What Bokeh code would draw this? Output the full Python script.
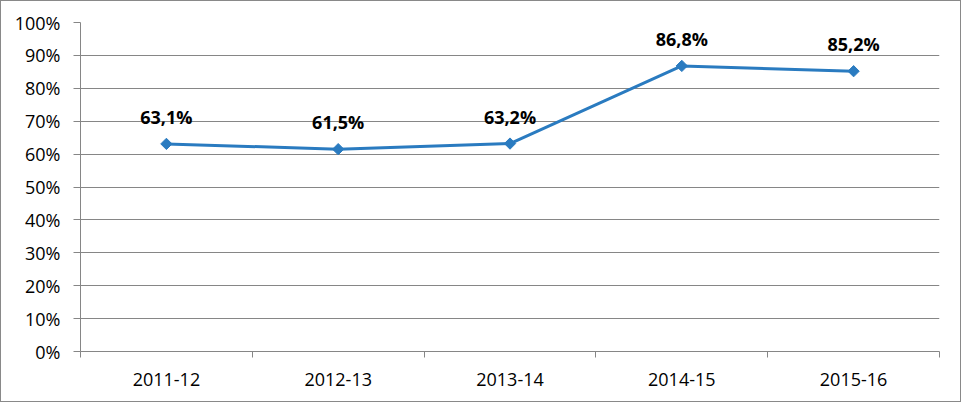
import math
from bokeh.plotting import figure
from bokeh.models import Range1d, FixedTicker, ColumnDataSource
from bokeh.core.properties import value
from bokeh.embed import file_html
from bokeh.resources import INLINE

categories = ["2011-12", "2012-13", "2013-14", "2014-15", "2015-16"]
values = [0.631, 0.615, 0.632, 0.868, 0.852]
labels = ["63,1%", "61,5%", "63,2%", "86,8%", "85,2%"]
y_ticks = [0.0, 0.1, 0.2, 0.3, 0.4, 0.5, 0.6, 0.7, 0.8, 0.9, 1.0]
y_tick_labels = ["0%", "10%", "20%", "30%", "40%", "50%", "60%", "70%", "80%", "90%", "100%"]

xs = [i + 0.5 for i in range(len(categories))]
src = ColumnDataSource(dict(x=xs, y=values, label=labels))

GRAY = "#868686"
BLUE = "#2a7bc0"
FONT = "Open Sans"

p = figure(width=961, height=402, output_backend="svg", toolbar_location=None,
           x_range=Range1d(0, len(categories)), y_range=Range1d(0, 1),
           min_border_left=79, min_border_right=23, min_border_top=21, min_border_bottom=52)
p.styles = {"border": "1px solid #898989"}
p.outline_line_color = None
p.background_fill_color = "white"
p.border_fill_color = "white"

# grid
p.xgrid.grid_line_color = None
p.ygrid.grid_line_color = GRAY
p.ygrid.grid_line_width = 1
p.ygrid.ticker = FixedTicker(ticks=y_ticks)

# y axis
p.yaxis.ticker = FixedTicker(ticks=y_ticks)
p.yaxis.major_label_overrides = {t: l for t, l in zip(y_ticks, y_tick_labels)}
p.yaxis.axis_line_color = GRAY
p.yaxis.major_tick_line_color = GRAY
p.yaxis.major_tick_out = 7
p.yaxis.major_tick_in = 0
p.yaxis.minor_tick_line_color = None
p.yaxis.major_label_standoff = 13
p.yaxis.major_label_text_font = FONT
p.yaxis.major_label_text_font_size = "18px"
p.yaxis.major_label_text_color = "#000000"

# x axis: labels at centers, ticks at boundaries (as minor ticks)
p.xaxis.ticker = FixedTicker(ticks=xs, minor_ticks=list(range(len(categories) + 1)))
p.xaxis.major_label_overrides = {x: c for x, c in zip(xs, categories)}
p.xaxis.axis_line_color = GRAY
p.xaxis.major_tick_line_color = None
p.xaxis.major_tick_out = 0
p.xaxis.major_tick_in = 0
p.xaxis.minor_tick_line_color = GRAY
p.xaxis.minor_tick_out = 6
p.xaxis.minor_tick_in = 0
p.xaxis.major_label_standoff = 15
p.xaxis.major_label_text_font = FONT
p.xaxis.major_label_text_font_size = "18px"
p.xaxis.major_label_text_color = "#000000"

p.line("x", "y", source=src, line_color=BLUE, line_width=3)
p.scatter("x", "y", source=src, marker="square", angle=math.pi / 4, size=8,
          fill_color=BLUE, line_color=BLUE)
p.text("x", "y", text="label", source=src, text_font=value(FONT), text_font_style="bold",
       text_font_size="18px", text_align="center", text_baseline="middle", y_offset=-27,
       text_color="#000000")

open("out.html", "w").write(file_html(p, INLINE))
